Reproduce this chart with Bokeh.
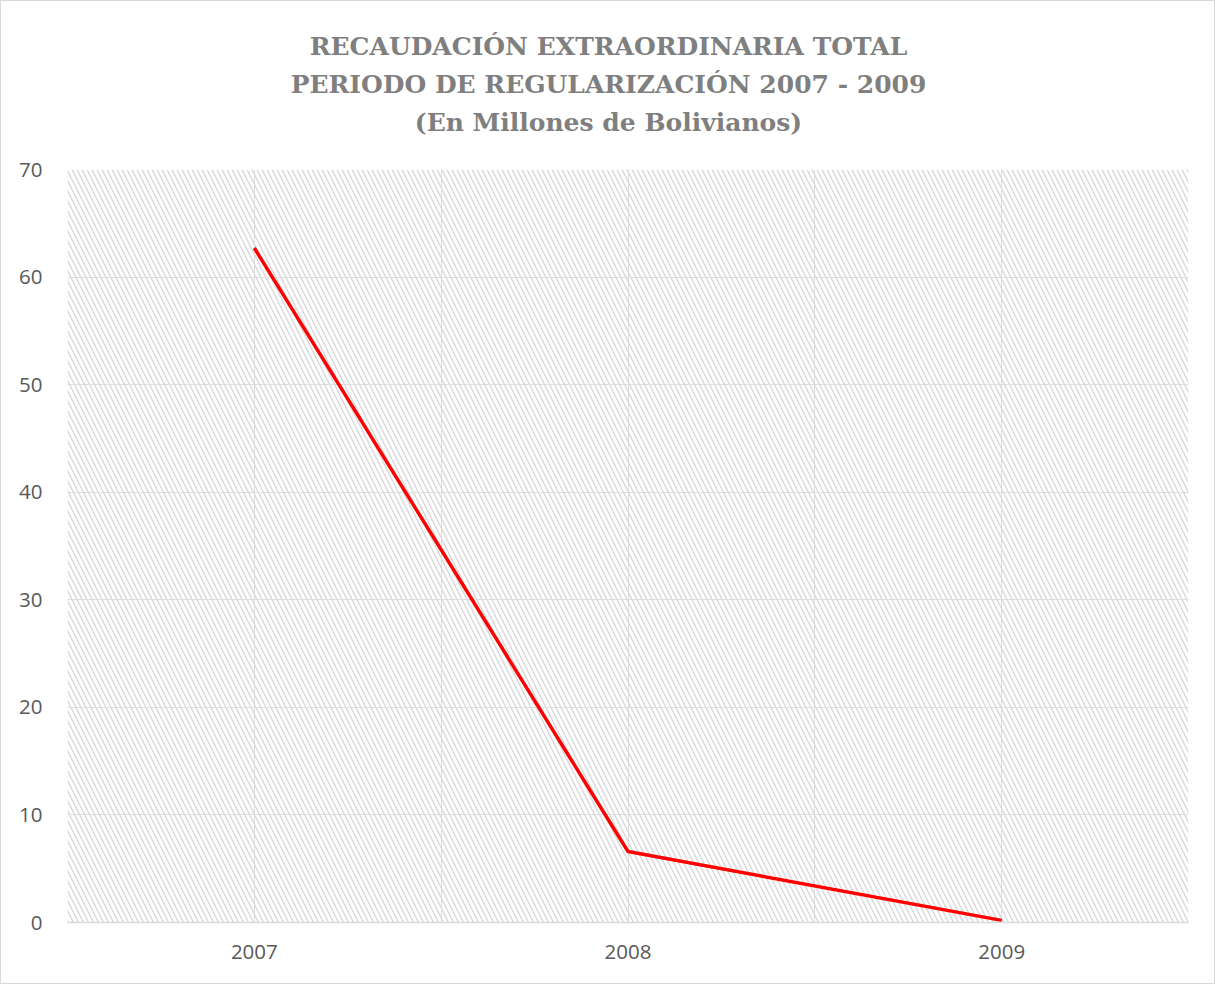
from bokeh.plotting import figure
from bokeh.models import BoxAnnotation, FixedTicker, Range1d, Div
from bokeh.layouts import column
from bokeh.embed import file_html
from bokeh.resources import INLINE

# Recaudación extraordinaria total (millones de Bs)
years = ["2007", "2008", "2009"]
amounts = [62.7, 6.6, 0.2]
y_ticks = [0, 10, 20, 30, 40, 50, 60, 70]

title_lines = [
    "RECAUDACIÓN EXTRAORDINARIA TOTAL",
    "PERIODO DE REGULARIZACIÓN 2007 - 2009",
    "(En Millones de Bolivianos)",
]

W = 1215
HEAD_H = 154
FIG_H = 984 - HEAD_H
xs = list(range(len(years)))

# title block centred across the full width
head = Div(
    text=(
        '<div style="text-align:center; font-family:\'DejaVu Serif\'; '
        'font-weight:bold; font-size:25px; line-height:38px; color:#7f7f7f; '
        'padding-top:27px; margin:0; width:%dpx;">%s</div>'
        % (W, "<br>".join(title_lines))
    ),
    width=W, height=HEAD_H,
    styles={"border": "1px solid #d9d9d9", "border-bottom": "none",
            "box-sizing": "border-box", "background": "white",
            "margin": "0", "padding": "0"},
)

p = figure(
    width=W, height=FIG_H,
    output_backend="svg", toolbar_location=None,
    x_range=Range1d(-0.5, len(years) - 0.5),
    y_range=Range1d(0, 70),
    min_border_left=66, min_border_right=28,
    min_border_top=169 - HEAD_H, min_border_bottom=62,
)
p.outline_line_color = None
p.background_fill_color = "white"
p.border_fill_color = "white"
p.styles = {"border": "1px solid #d9d9d9", "border-top": "none",
            "box-sizing": "border-box"}

# hatched plot area
p.add_layout(BoxAnnotation(
    left=-0.5, right=len(years) - 0.5, bottom=0, top=70,
    fill_color="white", fill_alpha=1.0, line_color=None,
    hatch_pattern="\\", hatch_color="#d8d8d8", hatch_scale=10,
    hatch_weight=1.4, level="image",
))

p.line(xs, amounts, line_color="#ff0000", line_width=3.5)

# axes
p.xaxis.ticker = FixedTicker(ticks=xs)
p.xaxis.major_label_overrides = {i: y for i, y in enumerate(years)}
p.xaxis.axis_line_color = "#d9d9d9"
p.xaxis.axis_line_width = 1.5
p.xaxis.major_tick_line_color = None
p.xaxis.minor_tick_line_color = None
p.xaxis.major_label_standoff = 16

p.yaxis.ticker = FixedTicker(ticks=y_ticks)
p.yaxis.axis_line_color = None
p.yaxis.major_tick_line_color = None
p.yaxis.minor_tick_line_color = None
p.yaxis.major_label_standoff = 19

for ax in (p.xaxis[0], p.yaxis[0]):
    ax.major_label_text_font = "Open Sans"
    ax.major_label_text_font_size = "20.5px"
    ax.major_label_text_color = "#595959"

# grid
p.xgrid.ticker = FixedTicker(ticks=[-0.5, 0, 0.5, 1, 1.5, 2, 2.5])
p.xgrid.grid_line_color = "#dddddd"
p.xgrid.grid_line_width = 1
p.ygrid.ticker = FixedTicker(ticks=y_ticks)
p.ygrid.grid_line_color = "#dddddd"
p.ygrid.grid_line_width = 1

layout = column(head, p, spacing=0)
open("out.html", "w").write(file_html(layout, INLINE))
